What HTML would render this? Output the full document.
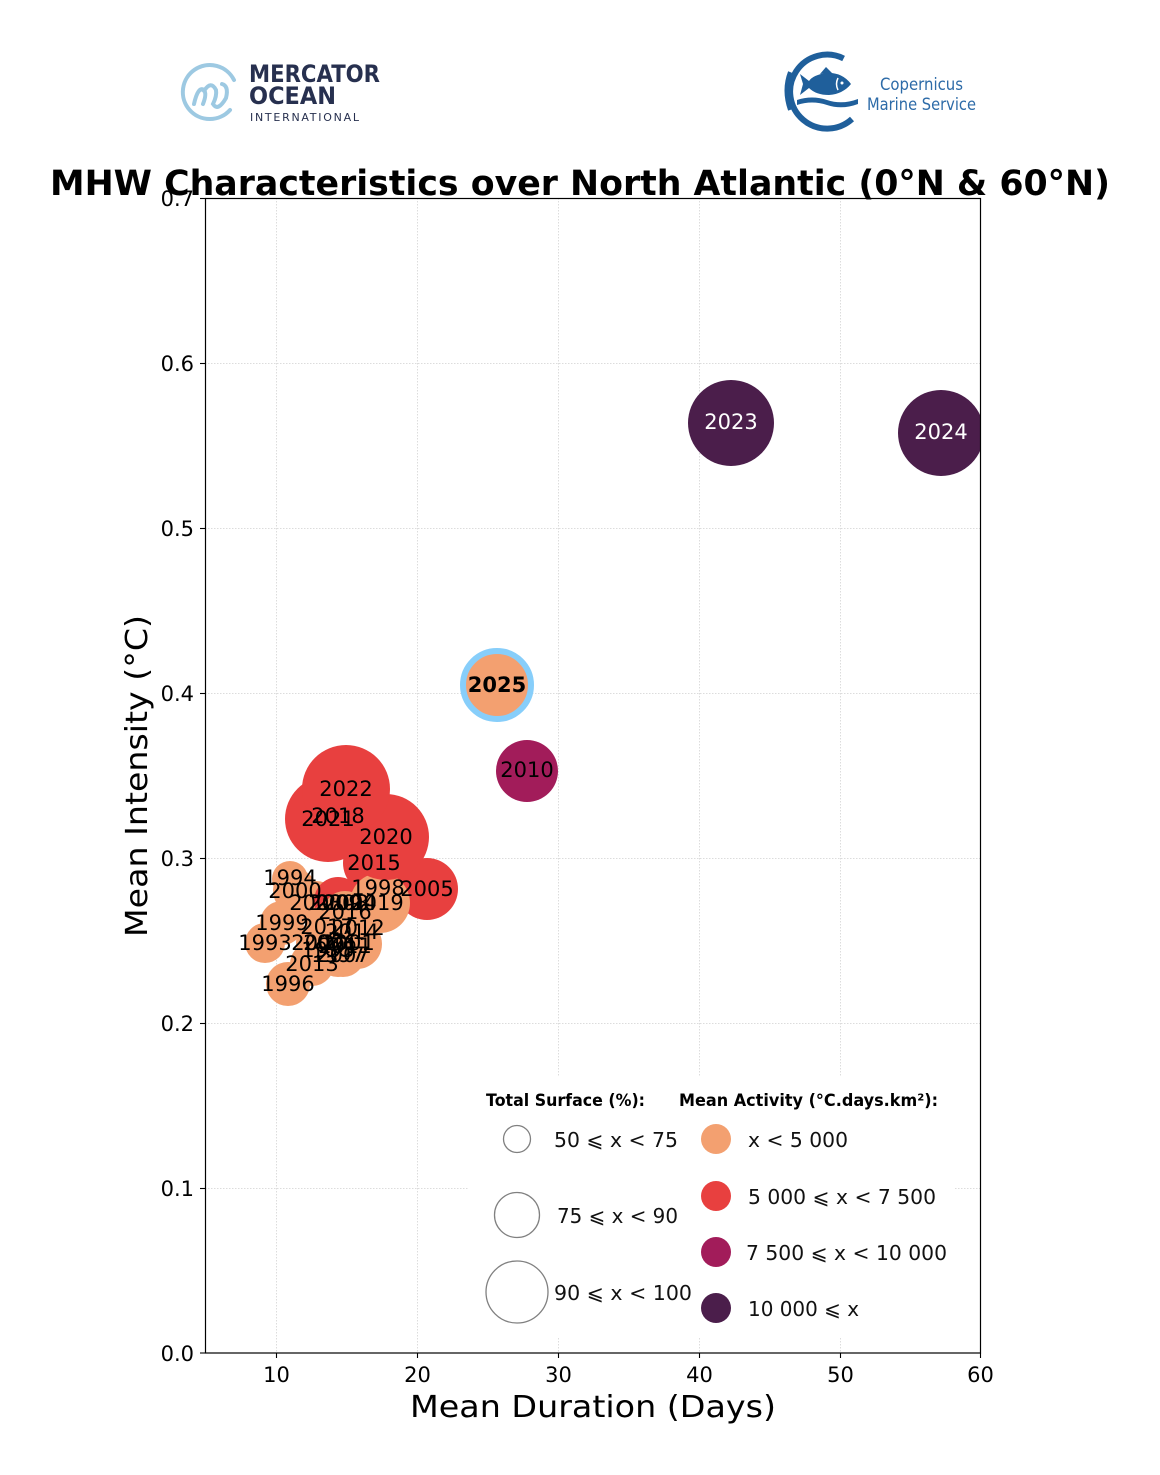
<!DOCTYPE html>
<html><head><meta charset="utf-8"><style>
html,body{margin:0;padding:0;background:#fff;}
svg{display:block;}
text{font-family:"DejaVu Sans","Liberation Sans",sans-serif;}
</style></head><body>
<svg width="1160" height="1475" viewBox="0 0 1160 1475" xmlns="http://www.w3.org/2000/svg">
<rect width="1160" height="1475" fill="#fff"/>
<defs><clipPath id="ax"><rect x="205.5" y="198" width="775" height="1155"/></clipPath></defs>

<!-- Mercator logo -->
<path d="M230,110 A27,27 0 1 1 234,80" fill="none" stroke="#9DC9E2" stroke-width="4" stroke-linecap="round"/>
<path d="M194,104 Q198,86 204,90 Q207,94 203,104 M204,91 Q211,80 216,90 Q217,96 213,104 Q218,112 226,98 Q229,86 222,84" fill="none" stroke="#9DC9E2" stroke-width="4" stroke-linecap="round"/>
<text x="249" y="82" font-size="24" font-weight="bold" fill="#27304F" textLength="131" lengthAdjust="spacingAndGlyphs">MERCATOR</text>
<text x="249" y="104" font-size="24" font-weight="bold" fill="#27304F" textLength="87" lengthAdjust="spacingAndGlyphs">OCEAN</text>
<text x="250" y="121" font-size="11" fill="#27304F" textLength="109" lengthAdjust="spacing">INTERNATIONAL</text>

<!-- Copernicus logo -->
<path d="M843.6,58.5 A37,37 0 1 0 852,119" fill="none" stroke="#1F5F9B" stroke-width="6"/>
<path d="M790,72 Q783,90 790,110" fill="none" stroke="#1F5F9B" stroke-width="4"/>
<path d="M851,84 Q842,72 826,73 Q813,75 809,81 L800,74 L803,84 L800,95 L809,88 Q816,95 829,95 Q843,94 851,84 Z" fill="#1F5F9B"/>
<path d="M820,74 L826,67 L832,73 Z" fill="#1F5F9B"/>
<path d="M838,78 Q835,84 838,90" fill="none" stroke="#fff" stroke-width="1.5"/>
<circle cx="842" cy="83" r="1.5" fill="#fff"/>
<path d="M797,100 Q812,95 827,100 Q842,105 858,99 L858,104 Q842,110 827,105 Q812,100 797,105 Z" fill="#1F5F9B"/>
<text x="880" y="90" font-size="16.5" fill="#2D6BA8" font-family="Liberation Sans" textLength="83" lengthAdjust="spacingAndGlyphs">Copernicus</text>
<text x="867" y="110" font-size="16.5" fill="#2D6BA8" font-family="Liberation Sans" textLength="109" lengthAdjust="spacingAndGlyphs">Marine Service</text>

<!-- grid -->
<g stroke="#dcdcdc" stroke-width="1" stroke-dasharray="1.5,1.5">
<line x1="276.5" y1="198" x2="276.5" y2="1353"/>
<line x1="417.5" y1="198" x2="417.5" y2="1353"/>
<line x1="558.5" y1="198" x2="558.5" y2="1353"/>
<line x1="699.5" y1="198" x2="699.5" y2="1353"/>
<line x1="840.5" y1="198" x2="840.5" y2="1353"/>
<line x1="205" y1="363.5" x2="980" y2="363.5"/>
<line x1="205" y1="528.5" x2="980" y2="528.5"/>
<line x1="205" y1="693.5" x2="980" y2="693.5"/>
<line x1="205" y1="858.5" x2="980" y2="858.5"/>
<line x1="205" y1="1023.5" x2="980" y2="1023.5"/>
<line x1="205" y1="1188.5" x2="980" y2="1188.5"/>
</g>

<!-- bubbles -->
<g clip-path="url(#ax)">
<circle cx="265" cy="943" r="20" fill="#F3A070"/>
<circle cx="290" cy="879" r="18" fill="#F3A070"/>
<circle cx="328" cy="950" r="22" fill="#F3A070"/>
<circle cx="288" cy="984" r="22" fill="#F3A070"/>
<circle cx="338" cy="955" r="22" fill="#F3A070"/>
<circle cx="378" cy="888" r="24" fill="#F3A070"/>
<circle cx="282" cy="923" r="22" fill="#F3A070"/>
<circle cx="295" cy="891" r="22" fill="#F3A070"/>
<circle cx="348" cy="943" r="22" fill="#F3A070"/>
<circle cx="318" cy="943" r="22" fill="#F3A070"/>
<circle cx="316" cy="903" r="22" fill="#F3A070"/>
<circle cx="350" cy="903" r="22" fill="#F3A070"/>
<circle cx="427" cy="889" r="31" fill="#E8403F"/>
<circle cx="330" cy="943" r="22" fill="#F3A070"/>
<circle cx="343" cy="955" r="22" fill="#F3A070"/>
<circle cx="342" cy="903" r="22" fill="#F3A070"/>
<circle cx="338" cy="901" r="24" fill="#E8403F"/>
<circle cx="527" cy="771" r="31" fill="#A21C5A"/>
<circle cx="357" cy="944" r="25" fill="#F3A070"/>
<circle cx="358" cy="928" r="22" fill="#F3A070"/>
<circle cx="312" cy="964" r="22" fill="#F3A070"/>
<circle cx="352" cy="932" r="22" fill="#F3A070"/>
<circle cx="374" cy="863" r="31" fill="#E8403F"/>
<circle cx="345" cy="913" r="22" fill="#F3A070"/>
<circle cx="327" cy="927" r="22" fill="#F3A070"/>
<circle cx="338" cy="816" r="43" fill="#E8403F"/>
<circle cx="380" cy="903" r="30" fill="#F3A070"/>
<circle cx="386" cy="837" r="43" fill="#E8403F"/>
<circle cx="328" cy="819" r="43" fill="#E8403F"/>
<circle cx="346" cy="789" r="44" fill="#E8403F"/>
<circle cx="731" cy="423" r="43" fill="#4B1E4B"/>
<circle cx="941" cy="433" r="43" fill="#4B1E4B"/>
<circle cx="497" cy="685" r="34" fill="#F3A070" stroke="#87CEFA" stroke-width="6"/>
</g>

<!-- labels -->
<g font-size="21" fill="#000" text-anchor="middle" dominant-baseline="central">
<text x="346" y="789">2022</text>
<text x="338" y="816">2018</text>
<text x="328" y="819">2021</text>
<text x="386" y="837">2020</text>
<text x="374" y="863">2015</text>
<text x="427" y="889">2005</text>
<text x="378" y="888">1998</text>
<text x="290" y="878">1994</text>
<text x="295" y="891">2000</text>
<text x="316" y="903">2003</text>
<text x="335" y="903">2009</text>
<text x="342" y="903">2008</text>
<text x="350" y="903">2004</text>
<text x="377" y="903">2019</text>
<text x="345" y="912">2016</text>
<text x="282" y="923">1999</text>
<text x="327" y="927">2017</text>
<text x="358" y="928">2012</text>
<text x="352" y="932">2014</text>
<text x="265" y="943">1993</text>
<text x="318" y="943">2002</text>
<text x="330" y="943">2006</text>
<text x="348" y="943">2001</text>
<text x="345" y="946">2011</text>
<text x="328" y="950">1995</text>
<text x="338" y="955">1997</text>
<text x="343" y="955">2007</text>
<text x="312" y="964">2013</text>
<text x="288" y="984">1996</text>
<text x="527" y="770">2010</text>
<text x="497" y="685" font-weight="bold">2025</text>
<text x="731" y="422" fill="#fff">2023</text>
<text x="941" y="432" fill="#fff">2024</text>
</g>

<!-- legend -->
<rect x="468" y="1077" width="487" height="261" fill="#fff"/>
<text x="486" y="1106" font-size="17" font-weight="bold" textLength="159" lengthAdjust="spacingAndGlyphs">Total Surface (%):</text>
<text x="679" y="1106" font-size="17" font-weight="bold" textLength="259" lengthAdjust="spacingAndGlyphs">Mean Activity (°C.days.km²):</text>
<g fill="none" stroke="#808080" stroke-width="1.3">
<circle cx="517" cy="1139" r="13.5"/>
<circle cx="517" cy="1215" r="22.5"/>
<circle cx="517" cy="1292" r="31"/>
</g>
<circle cx="716" cy="1139" r="15" fill="#F3A070"/>
<circle cx="716" cy="1196" r="15" fill="#E8403F"/>
<circle cx="716" cy="1252" r="15" fill="#A21C5A"/>
<circle cx="716" cy="1308" r="15" fill="#4B1E4B"/>
<g font-size="20.5" fill="#111" dominant-baseline="central">
<text x="554" y="1140" textLength="124" lengthAdjust="spacingAndGlyphs">50 ⩽ x &lt; 75</text>
<text x="557" y="1216" textLength="121" lengthAdjust="spacingAndGlyphs">75 ⩽ x &lt; 90</text>
<text x="554" y="1293" textLength="138" lengthAdjust="spacingAndGlyphs">90 ⩽ x &lt; 100</text>
<text x="748" y="1140" textLength="100" lengthAdjust="spacingAndGlyphs">x &lt; 5 000</text>
<text x="748" y="1197" textLength="188" lengthAdjust="spacingAndGlyphs">5 000 ⩽ x &lt; 7 500</text>
<text x="746" y="1253" textLength="201" lengthAdjust="spacingAndGlyphs">7 500 ⩽ x &lt; 10 000</text>
<text x="748" y="1309" textLength="111" lengthAdjust="spacingAndGlyphs">10 000 ⩽ x</text>
</g>

<!-- axes frame -->
<rect x="205.5" y="198.5" width="775" height="1154.5" fill="none" stroke="#000" stroke-width="1.2"/>

<!-- ticks -->
<g stroke="#000" stroke-width="1.1">
<line x1="276.5" y1="1353" x2="276.5" y2="1358"/>
<line x1="417.5" y1="1353" x2="417.5" y2="1358"/>
<line x1="558.5" y1="1353" x2="558.5" y2="1358"/>
<line x1="699.5" y1="1353" x2="699.5" y2="1358"/>
<line x1="840.5" y1="1353" x2="840.5" y2="1358"/>
<line x1="980.5" y1="1353" x2="980.5" y2="1358"/>
<line x1="200" y1="1353" x2="205.5" y2="1353"/>
<line x1="200" y1="1188.5" x2="205.5" y2="1188.5"/>
<line x1="200" y1="1023.5" x2="205.5" y2="1023.5"/>
<line x1="200" y1="858.5" x2="205.5" y2="858.5"/>
<line x1="200" y1="693.5" x2="205.5" y2="693.5"/>
<line x1="200" y1="528.5" x2="205.5" y2="528.5"/>
<line x1="200" y1="363.5" x2="205.5" y2="363.5"/>
<line x1="200" y1="198.5" x2="205.5" y2="198.5"/>
</g>
<g font-size="21" fill="#000" text-anchor="middle">
<text x="276.5" y="1382">10</text>
<text x="417.5" y="1382">20</text>
<text x="558.5" y="1382">30</text>
<text x="699.5" y="1382">40</text>
<text x="840.5" y="1382">50</text>
<text x="980.5" y="1382">60</text>
</g>
<g font-size="21" fill="#000" text-anchor="end">
<text x="194" y="1361">0.0</text>
<text x="194" y="1196">0.1</text>
<text x="194" y="1031">0.2</text>
<text x="194" y="866">0.3</text>
<text x="194" y="701">0.4</text>
<text x="194" y="536">0.5</text>
<text x="194" y="371">0.6</text>
<text x="194" y="206">0.7</text>
</g>

<!-- axis labels -->
<text x="410" y="1417" font-size="30" textLength="366" lengthAdjust="spacingAndGlyphs">Mean Duration (Days)</text>
<text transform="translate(147,937) rotate(-90)" font-size="30" textLength="322" lengthAdjust="spacingAndGlyphs">Mean Intensity (°C)</text>

<!-- title -->
<text x="50" y="195" font-size="35" font-weight="bold" textLength="1060" lengthAdjust="spacingAndGlyphs">MHW Characteristics over North Atlantic (0°N &amp; 60°N)</text>
</svg>
</body></html>
